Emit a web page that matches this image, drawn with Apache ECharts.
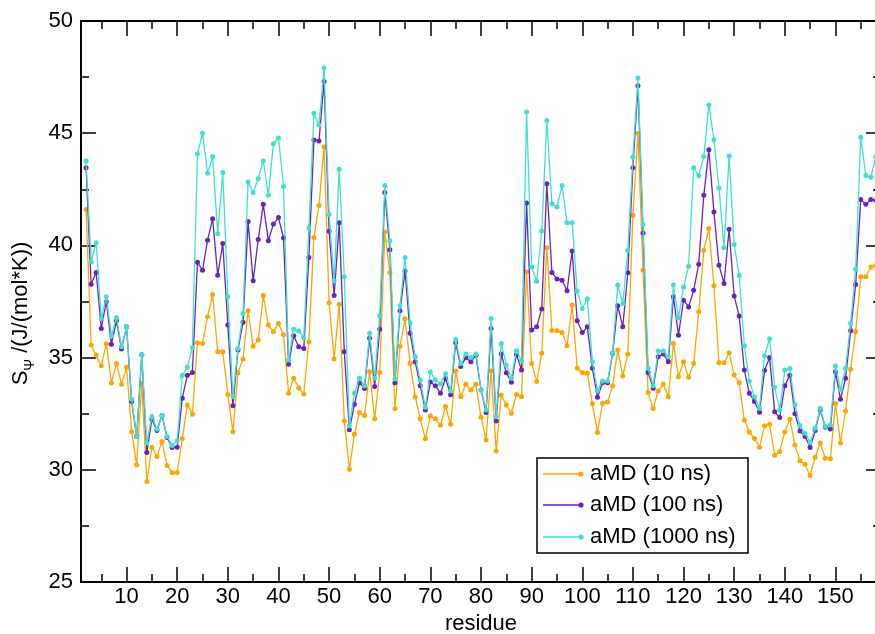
<!DOCTYPE html>
<html>
<head>
<meta charset="utf-8">
<script src="https://cdn.jsdelivr.net/npm/echarts@6/dist/echarts.min.js"></script>
<style>
  html, body { margin: 0; padding: 0; background: #fff; }
  #chart { width: 875px; height: 634px; }
</style>
</head>
<body>
<div id="chart"></div>
<script>
// Conformational entropy per residue from three aMD run lengths
const firstResidue = 2;

const amd10 = [
  41.6, 35.56, 35.1, 34.64, 35.62, 33.87, 34.74, 33.81, 34.57, 31.7, 30.21, 33.85, 29.48, 31.01,
  30.59, 31.26, 30.19, 29.88, 29.88, 31.38, 32.89, 32.48, 35.66, 35.63, 36.82, 37.81, 35.26, 35.26, 33.36, 31.7,
  34.33, 34.94, 37.09, 35.51, 35.78, 37.77, 36.45, 36.15, 36.52, 36.02, 33.41, 34.08, 33.65, 33.38, 35.71, 40.35,
  41.78, 44.38, 37.44, 34.94, 37.38, 32.18, 30.03, 31.59, 32.55, 32.42, 34.37, 32.28, 34.34, 40.6, 38.79, 32.73,
  35.51, 36.73, 34.74, 33.26, 32.28, 31.38, 32.4, 32.27, 31.99, 32.82, 32.03, 34.4, 33.26, 33.81, 33.56,
  33.81, 32.34, 31.33, 34.4, 30.84, 33.32, 32.89, 32.52, 33.36, 33.25, 38.82, 34.74, 33.93, 35.19, 39.9, 36.21,
  36.2, 36.12, 35.53, 37.34, 34.52, 34.34, 34.3, 32.94, 31.66, 32.96, 33.02, 33.74, 35.34, 34.18, 35.16, 41.34,
  45.0, 38.89, 33.44, 32.73, 33.51, 33.82, 33.26, 35.63, 34.15, 34.82, 34.12, 34.74, 37.04, 39.78, 40.75, 38.2,
  34.77, 34.77, 35.22, 34.22, 33.88, 32.22, 31.69, 31.39, 31.01, 31.96, 32.03, 30.65, 30.82, 31.69, 32.25, 31.1,
  30.4, 30.25, 29.75, 30.56, 31.19, 30.52, 30.49, 32.96, 31.19, 32.62, 34.48, 36.15, 38.6, 38.6, 39.04, 39.1
];

const amd100 = [
  43.46, 38.27, 38.79, 36.3, 37.49, 35.6, 36.64, 35.38, 36.37, 33.04, 31.48, 35.13, 30.77, 32.25,
  31.75, 32.42, 31.44, 30.99, 31.01, 33.19, 34.21, 34.34, 39.25, 38.89, 40.23, 41.19, 38.67, 40.08, 36.45, 32.85,
  35.34, 36.57, 41.06, 38.42, 40.26, 41.83, 40.21, 40.95, 41.24, 40.33, 34.7, 35.97, 35.48, 35.4, 39.46, 44.7,
  44.65, 47.3, 40.63, 37.77, 41.01, 35.26, 31.78, 32.92, 33.88, 33.62, 35.86, 33.71, 36.26, 42.36, 39.81, 33.88,
  37.09, 38.86, 36.08, 34.82, 33.74, 32.67, 33.91, 33.74, 33.41, 34.08, 33.34, 35.66, 34.6, 35.0, 34.82,
  35.1, 33.56, 32.55, 36.3, 32.18, 35.16, 34.33, 33.9, 35.14, 34.45, 41.89, 36.23, 36.37, 37.17, 42.75, 38.79,
  38.5, 38.45, 37.98, 39.75, 36.64, 36.12, 36.37, 34.52, 33.23, 33.88, 33.88, 35.19, 37.31, 36.37, 38.78, 43.46,
  47.12, 40.55, 34.34, 33.63, 35.04, 35.16, 34.82, 37.71, 36.0, 37.56, 37.26, 38.0, 39.16, 42.23, 44.26, 41.49,
  39.12, 38.3, 40.72, 37.74, 36.85, 34.45, 33.41, 33.04, 32.56, 34.42, 35.0, 32.59, 32.33, 33.75, 34.21, 32.5,
  31.73, 31.48, 30.99, 31.75, 32.67, 31.9, 31.82, 34.37, 33.14, 34.08, 36.2, 38.26, 42.04, 41.83, 42.04, 42.0
];

const amd1000 = [
  43.76, 39.26, 40.12, 36.74, 37.71, 35.96, 36.79, 35.48, 36.37, 33.14, 31.48, 35.13, 31.19, 32.37,
  31.81, 32.42, 31.48, 31.08, 31.3, 34.2, 34.57, 35.44, 44.08, 45.0, 43.22, 43.96, 40.52, 43.25, 37.71, 33.26,
  35.4, 36.97, 42.82, 42.36, 42.97, 43.76, 42.23, 44.53, 44.79, 42.63, 34.89, 36.26, 36.18, 35.88, 40.78, 45.89,
  45.37, 47.91, 41.38, 38.42, 43.39, 38.6, 31.96, 33.41, 34.08, 33.74, 36.08, 34.08, 36.86, 42.67, 40.21, 34.05,
  37.31, 39.46, 36.55, 35.04, 34.0, 32.79, 34.36, 34.0, 33.82, 34.28, 33.51, 35.81, 34.74, 35.16, 35.01,
  35.16, 33.56, 32.67, 36.74, 32.37, 35.63, 34.67, 34.08, 35.31, 34.85, 45.94, 39.04, 38.4, 40.64, 45.57, 41.86,
  41.71, 42.67, 41.01, 41.01, 37.96, 37.19, 37.62, 34.82, 33.53, 33.96, 33.96, 35.22, 38.23, 37.41, 39.78, 43.93,
  47.46, 40.93, 34.52, 33.74, 35.29, 35.29, 35.04, 38.23, 36.77, 38.15, 39.07, 43.46, 43.1, 43.96, 46.26, 44.71,
  42.56, 39.89, 43.98, 40.04, 38.66, 35.53, 33.96, 33.26, 32.74, 35.08, 35.84, 33.68, 32.67, 34.45, 34.51, 32.9,
  31.97, 31.63, 31.22, 31.85, 32.74, 31.93, 32.0, 34.64, 33.59, 34.52, 36.52, 38.94, 44.82, 43.12, 43.04, 43.94
];

const seriesNames = ['aMD (10 ns)', 'aMD (100 ns)', 'aMD (1000 ns)'];
const seriesColors = ['#FFA500', '#6A22BE', '#40E0D0'];
const xMajorTicks = [10, 20, 30, 40, 50, 60, 70, 80, 90, 100, 110, 120, 130, 140, 150];
const xMinorTicks = [5, 15, 25, 35, 45, 55, 65, 75, 85, 95, 105, 115, 125, 135, 145, 155];

const X_MIN = 1, X_MAX = 159;
const FONT = 'Liberation Sans, Arial, Helvetica, sans-serif';
const FS = 22;

function toPairs(values) {
  return values.map((v, i) => [firstResidue + i, v]);
}

function xAxisDef(position, ticks, len, withLabels) {
  return {
    type: 'value', position: position, min: X_MIN, max: X_MAX,
    axisLine: { show: false },
    splitLine: { show: false },
    axisTick: { show: true, inside: true, length: len, customValues: ticks,
                lineStyle: { color: '#000', width: 1.5 } },
    axisLabel: withLabels
      ? { show: true, customValues: ticks, color: '#000', fontSize: FS, fontFamily: FONT, margin: 4 }
      : { show: false }
  };
}

function yAxisDef(position, withLabels) {
  return {
    type: 'value', position: position, min: 25, max: 50, interval: 5,
    axisLine: { show: false },
    splitLine: { show: false },
    axisTick: { show: true, inside: true, length: 15, lineStyle: { color: '#000', width: 1.5 } },
    minorTick: { show: true, splitNumber: 2, length: 8, lineStyle: { color: '#000', width: 1.5 } },
    axisLabel: withLabels
      ? { show: true, color: '#000', fontSize: FS, fontFamily: FONT, margin: 8 }
      : { show: false }
  };
}

const bottomMain = xAxisDef('bottom', xMajorTicks, 15, true);
bottomMain.name = 'residue';
bottomMain.nameLocation = 'middle';
bottomMain.nameGap = 30;
bottomMain.nameTextStyle = { color: '#000', fontSize: FS, fontFamily: FONT };

const leftMain = yAxisDef('left', true);
leftMain.name = '{s|S}{sub|Ψ}{s| /(J/(mol*K))}';
leftMain.nameLocation = 'middle';
leftMain.nameGap = 34;
leftMain.nameTextStyle = {
  color: '#000', fontFamily: FONT,
  padding: [0, 24, 0, 0],
  rich: {
    s: { fontSize: FS, fontFamily: FONT, color: '#000', lineHeight: 28, verticalAlign: 'top' },
    sub: { fontSize: 14, fontFamily: FONT, color: '#000', lineHeight: 28, verticalAlign: 'bottom', padding: [13, 0, 0, 0] }
  }
};

const chart = echarts.init(document.getElementById('chart'), null, { renderer: 'canvas' });

// Legend drawn as a boxed panel inside the plot area
const legendBox = { x: 537, y: 458, w: 211, h: 95 };
const legendRows = [474, 505, 537];
const legendGraphics = [{
  type: 'rect', shape: { x: legendBox.x, y: legendBox.y, width: legendBox.w, height: legendBox.h },
  style: { fill: '#fff', stroke: '#000', lineWidth: 1.5 }, z: 100
}];
seriesNames.forEach((name, i) => {
  const cy = legendRows[i];
  legendGraphics.push({
    type: 'line', shape: { x1: legendBox.x + 6, y1: cy, x2: legendBox.x + 44, y2: cy },
    style: { stroke: seriesColors[i], lineWidth: 1.3 }, z: 101
  });
  legendGraphics.push({
    type: 'circle', shape: { cx: legendBox.x + 44, cy: cy, r: 2.6 },
    style: { fill: seriesColors[i] }, z: 101
  });
  legendGraphics.push({
    type: 'text', x: legendBox.x + 53, y: cy,
    style: { text: name, fill: '#000', font: FS + 'px ' + FONT, textVerticalAlign: 'middle', verticalAlign: 'middle' },
    z: 101
  });
});

chart.setOption({
  backgroundColor: '#fff',
  animation: false,
  grid: {
    left: 81, top: 21, width: 800, height: 561,
    outerBoundsMode: 'none',
    containLabel: false,
    show: true, borderColor: '#000', borderWidth: 2, backgroundColor: 'transparent'
  },
  xAxis: [
    bottomMain,
    xAxisDef('bottom', xMinorTicks, 8, false),
    xAxisDef('top', xMajorTicks, 15, false),
    xAxisDef('top', xMinorTicks, 8, false)
  ],
  yAxis: [leftMain, yAxisDef('right', false)],
  series: [amd10, amd100, amd1000].map((vals, i) => ({
    name: seriesNames[i],
    type: 'line',
    xAxisIndex: 0, yAxisIndex: 0,
    data: toPairs(vals),
    symbol: 'circle',
    symbolSize: 5,
    showSymbol: true,
    color: seriesColors[i],
    lineStyle: { width: 1.3, color: seriesColors[i] },
    itemStyle: { color: seriesColors[i] },
    clip: true,
    z: 2 + i
  })),
  graphic: legendGraphics
});
</script>
</body>
</html>
